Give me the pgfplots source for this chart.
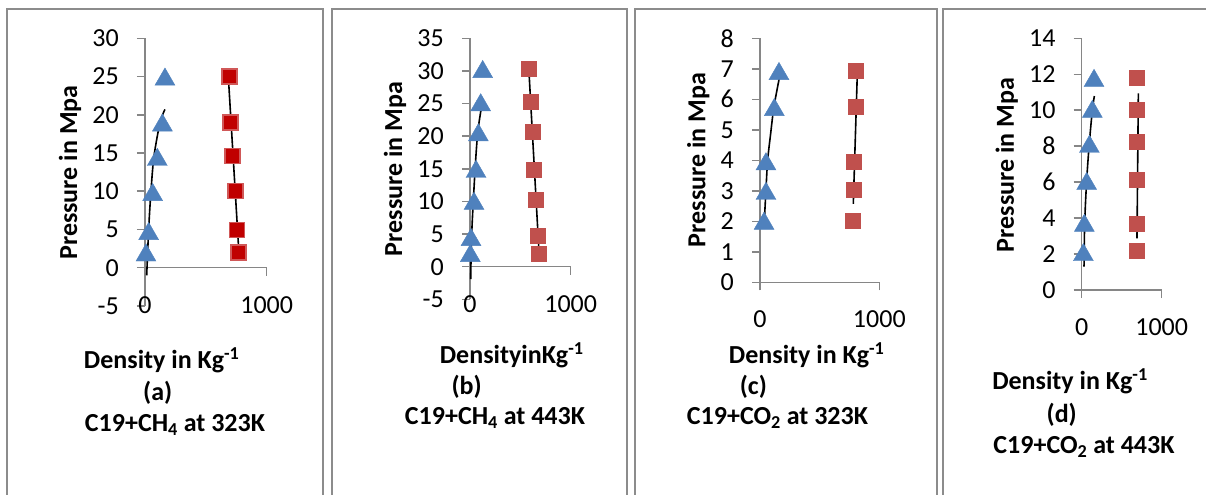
\documentclass[border=0pt]{standalone}
\usepackage{pgfplots}
\pgfplotsset{compat=1.18}
\usepackage{fontspec}
\setmainfont{Carlito}
\definecolor{tri}{HTML}{4F81BD}
\definecolor{sq}{HTML}{C0504D}
\definecolor{sqdark}{HTML}{C00000}
\definecolor{sqedge}{RGB}{208,88,88}
\definecolor{axgray}{HTML}{868686}
\definecolor{framegray}{HTML}{8C8C8C}
\begin{document}
\begin{tikzpicture}
\useasboundingbox (0,0) rectangle (1206bp,-495bp);
\pgfplotsset{
  panel/.style={
    scale only axis, clip=false,
    anchor=south west,
    xmin=0, xmax=1000,
    axis x line=middle, axis y line=left,
    axis line style={-, draw=axgray, line width=1.5bp},
    hide obscured x ticks=false, hide obscured y ticks=false,
    tick align=outside,
    major tick length=8bp,
    every tick/.style={draw=axgray, line width=1.5bp},
    xtick={0,1000}, xticklabels={0,1000},
    xticklabel style={anchor=center, yshift=-29bp},
    yticklabel style={anchor=east, inner sep=0pt, xshift=-18bp},
    ticklabel style={font=\fontsize{26bp}{30bp}\selectfont},
  },
  tris/.style={only marks, mark=triangle*, mark size=11.5bp, mark options={fill=tri, draw=tri, yshift=-2.9bp}},
  sqs/.style={only marks, mark=square*, mark size=7.5bp, mark options={fill=sq, draw=sq}},
  trend/.style={black, line width=1.6bp, no marks},
}
\tikzset{lab/.style={font=\fontsize{26bp}{30bp}\selectfont\bfseries, inner sep=0pt}}
% frames
\draw[framegray, line width=2bp] (7bp,-495bp) -- (7bp,-9bp) -- (323bp,-9bp) -- (323bp,-495bp);
\draw[framegray, line width=2bp] (331.5bp,-495bp) -- (331.5bp,-9bp) -- (627bp,-9bp) -- (627bp,-495bp);
\draw[framegray, line width=2bp] (635bp,-495bp) -- (635bp,-9bp) -- (936.5bp,-9bp) -- (936.5bp,-495bp);
\draw[framegray, line width=2bp] (943bp,-495bp) -- (943bp,-9bp) -- (1210bp,-9bp);

% (a)
\begin{axis}[panel, at={(145bp,-305.9bp)}, width=121.7bp, height=267.6bp,
  ymin=-5, ymax=30, ytick={-5,0,5,10,15,20,25,30}, yticklabels={-5,0,5,10,15,20,25,30}]
\addplot[tris] coordinates {(164,25) (143,19) (101,14.5) (63,9.9) (30,4.8) (8,2.0)};
\addplot[only marks, mark=square*, mark size=7.5bp, mark options={fill=sqdark, draw=sqedge, line width=1.5bp}] coordinates {(693,25) (704,19) (718,14.6) (743,10) (756,4.9) (767,2.0)};
\addplot[trend, smooth] coordinates {(14,-1) (30,5) (49,10) (74,14.6) (124,19) (164,20.7)};
\addplot[trend] coordinates {(688,24.1) (770,2.4)};
\end{axis}
\node[lab, rotate=90] at (70bp,-172.5bp) {Pressure in Mpa};
\node[lab] at (161.7bp,-360bp) {Density in Kg\textsuperscript{-1}};
\node[lab] at (157.7bp,-392.7bp) {(a)};
\node[lab] at (175bp,-425bp) {C19+CH\textsubscript{4} at 323K};

% (b)
\begin{axis}[panel, at={(470bp,-299.3bp)}, width=100.7bp, height=261bp,
  ymin=-5, ymax=35, ytick={-5,0,5,10,15,20,25,30,35}, yticklabels={-5,0,5,10,15,20,25,30,35}]
\addplot[tris] coordinates {(126,30.3) (106,25.2) (83,20.6) (60,15.0) (40,10.1) (10,4.55) (3,2.1)};
\addplot[sqs] coordinates {(586,30.3) (603,25.3) (619,20.7) (636,14.9) (656,10.3) (675,4.75) (685,2.05)};
\addplot[trend, smooth] coordinates {(7,-1.9) (17,5.1) (50,14.8) (76,20.4) (109,24) (132,25.6)};
\addplot[trend] coordinates {(583,30.6) (685,2.3)};
\end{axis}
\node[lab, rotate=90] at (395bp,-169bp) {Pressure in Mpa};
\node[lab] at (511.7bp,-355bp) {DensityinKg\textsuperscript{-1}};
\node[lab] at (466.7bp,-386.7bp) {(b)};
\node[lab] at (495bp,-418.3bp) {C19+CH\textsubscript{4} at 443K};

% (c)
\begin{axis}[panel, at={(760bp,-282.3bp)}, width=119.3bp, height=244bp,
  ymin=0, ymax=8, ytick={0,1,2,3,4,5,6,7,8}, yticklabels={0,1,2,3,4,5,6,7,8}]
\addplot[tris] coordinates {(159,6.93) (120,5.75) (50,3.97) (50,3.0) (34,2.02)};
\addplot[sqs] coordinates {(805,6.94) (805,5.76) (782,3.95) (782,3.03) (779,2.01)};
\addplot[trend, smooth] coordinates {(36,2.0) (50,3.03) (64,4.0) (90,4.9) (117,5.76) (165,6.76)};
\addplot[trend] coordinates {(782,2.57) (815,6.76)};
\end{axis}
\node[lab, rotate=90] at (698.3bp,-160bp) {Pressure in Mpa};
\node[lab] at (806.7bp,-355bp) {Density in Kg\textsuperscript{-1}};
\node[lab] at (753.3bp,-386.7bp) {(c)};
\node[lab] at (777.5bp,-418.3bp) {C19+CO\textsubscript{2} at 323K};

% (d)
\begin{axis}[panel, at={(1081.7bp,-290bp)}, width=80bp, height=251.7bp,
  ymin=0, ymax=14, ytick={0,2,4,6,8,10,12,14}, yticklabels={0,2,4,6,8,10,12,14}]
\addplot[tris] coordinates {(154,11.8) (133,10.08) (96,8.13) (62,6.07) (33,3.74) (21,2.11)};
\addplot[sqs] coordinates {(687,11.83) (687,10.01) (687,8.25) (687,6.12) (687,3.71) (687,2.19)};
\addplot[trend, smooth] coordinates {(29,1.3) (37,3.7) (62,6.1) (95,8.16) (133,10) (158,10.79)};
\addplot[trend] coordinates {(691,2.87) (708,10.94)};
\end{axis}
\node[lab, rotate=90] at (1006.7bp,-165bp) {Pressure in Mpa};
\node[lab] at (1070bp,-381.7bp) {Density in Kg\textsuperscript{-1}};
\node[lab] at (1061.7bp,-415bp) {(d)};
\node[lab] at (1084bp,-446.7bp) {C19+CO\textsubscript{2} at 443K};
\end{tikzpicture}
\end{document}
